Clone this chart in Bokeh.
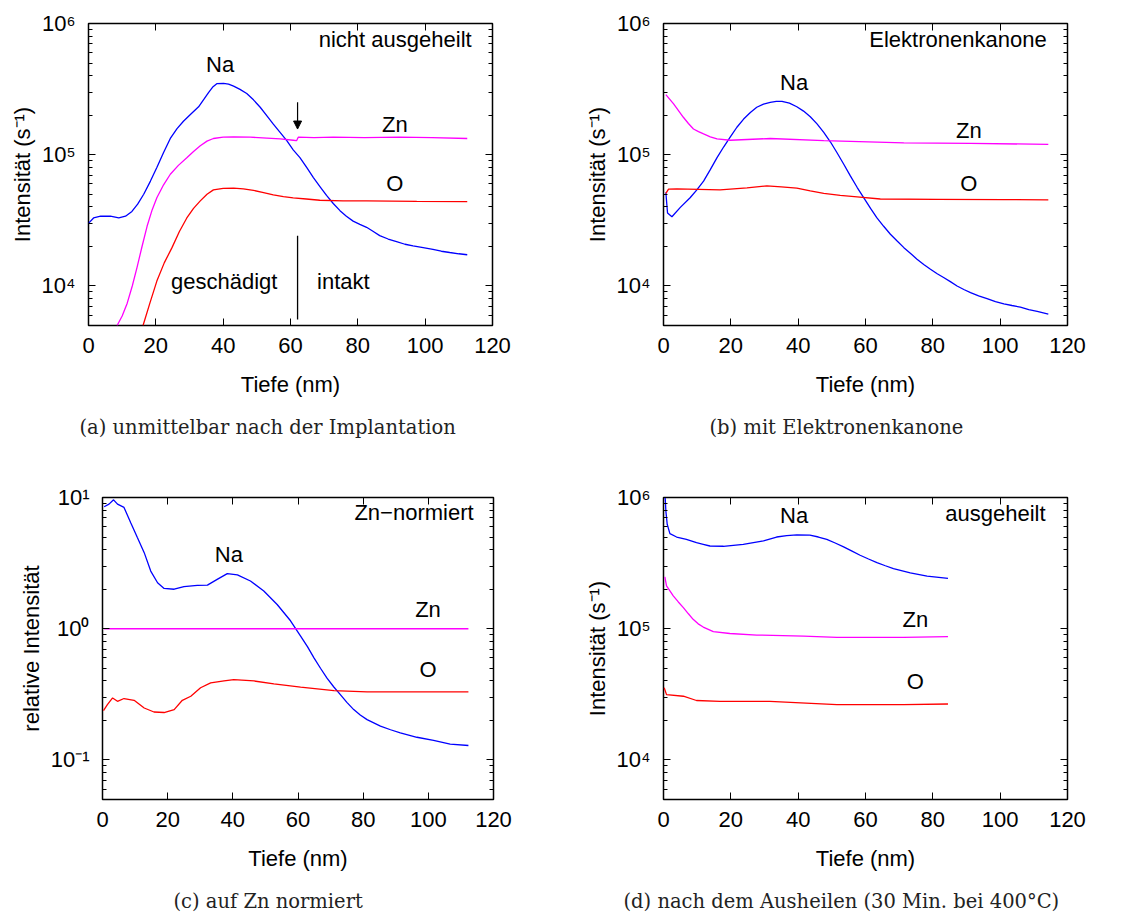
from bokeh.plotting import figure
from bokeh.models import (Range1d, LogAxis, LinearAxis, FixedTicker, Title, Arrow, NormalHead,
                          CustomLabelingPolicy)
from bokeh.layouts import column, row
from bokeh.core.properties import value
from bokeh.embed import file_html
from bokeh.resources import INLINE

# ---------------- data (depth in nm, intensity) ----------------
# (a) unmittelbar nach der Implantation
a_na_x = [0, 1.5, 3.6, 6.5, 9, 11, 12.9, 14.6, 16.4, 18.4, 20.3, 22.3, 24.3, 26.3, 28.2, 30.5, 32.7, 34.3,
          35.7, 37, 38.1, 40.1, 41.6, 43.1, 45, 47, 49, 51, 53, 54.9, 56.9, 58.9, 60.8, 62.8, 64.8, 66.8,
          68.8, 70.7, 72.7, 74.7, 76.6, 78.6, 80.6, 82.6, 84.6, 86.5, 89, 91.5, 94, 96.4, 99.4, 102.3,
          104.8, 107.3, 110, 112.5]
a_na_y = [3.0e4, 3.3e4, 3.4e4, 3.4e4, 3.3e4, 3.4e4, 3.7e4, 4.2e4, 5.0e4, 6.3e4, 8.0e4, 1.04e5, 1.33e5,
          1.58e5, 1.8e5, 2.05e5, 2.32e5, 2.65e5, 2.99e5, 3.3e5, 3.48e5, 3.5e5, 3.45e5, 3.33e5, 3.15e5,
          2.93e5, 2.62e5, 2.3e5, 1.98e5, 1.71e5, 1.48e5, 1.28e5, 1.09e5, 9.5e4, 8.0e4, 6.7e4, 5.7e4, 4.9e4,
          4.25e4, 3.75e4, 3.4e4, 3.12e4, 2.95e4, 2.8e4, 2.6e4, 2.42e4, 2.28e4, 2.18e4, 2.08e4, 2.02e4,
          1.96e4, 1.9e4, 1.84e4, 1.8e4, 1.76e4, 1.73e4]
a_zn_x = [8.5, 10, 11.5, 13, 14.4, 15.9, 17.4, 18.9, 20.3, 22.3, 24.3, 26.7, 29.2, 31.2, 33.2, 35.2, 37.1,
          40, 43.1, 48, 53, 57, 60.8, 61.8, 62.3, 67, 72.7, 82, 92.4, 102, 112.5]
a_zn_y = [5.0e3, 5.9e3, 7.4e3, 1.0e4, 1.38e4, 2.0e4, 2.85e4, 3.8e4, 4.7e4, 5.9e4, 7.1e4, 8.3e4, 9.5e4,
          1.06e5, 1.17e5, 1.27e5, 1.33e5, 1.36e5, 1.37e5, 1.36e5, 1.34e5, 1.32e5, 1.29e5, 1.28e5, 1.36e5,
          1.35e5, 1.36e5, 1.35e5, 1.36e5, 1.35e5, 1.33e5]
a_o_x = [16.2, 18.3, 20.3, 22.5, 24.8, 27, 29.2, 31.2, 33.2, 35.2, 37.1, 40, 43.1, 46, 49, 52, 54.9, 57.9,
         60.8, 64.7, 68.7, 75.6, 82.6, 97.5, 112.5]
a_o_y = [5.0e3, 7.5e3, 1.09e4, 1.5e4, 1.96e4, 2.6e4, 3.3e4, 3.9e4, 4.45e4, 5.0e4, 5.4e4, 5.55e4, 5.57e4,
         5.5e4, 5.35e4, 5.15e4, 4.95e4, 4.8e4, 4.7e4, 4.6e4, 4.5e4, 4.45e4, 4.45e4, 4.42e4, 4.4e4]

# (b) mit Elektronenkanone
b_na_x = [0.7, 1.2, 2.5, 5, 7.9, 9.9, 11.9, 13.9, 15.9, 17.9, 19.8, 21.8, 23.8, 25.8, 27.7, 29.7, 31.7,
          33.5, 35.2, 37.4, 39.6, 41.6, 43.6, 45.6, 47.6, 49.6, 51.5, 53.5, 55.5, 57.5, 59.5, 61.5, 63.4,
          65.4, 67.4, 69.4, 71.4, 73.4, 75.3, 77.3, 79.3, 81.3, 83.2, 85.2, 87.2, 89.2, 91.2, 93.6, 96.1,
          98.6, 101.1, 103.5, 106, 108.5, 111, 114.3]
b_na_y = [5.15e4, 3.6e4, 3.37e4, 3.97e4, 4.7e4, 5.4e4, 6.3e4, 7.7e4, 9.5e4, 1.15e5, 1.36e5, 1.62e5,
          1.87e5, 2.1e5, 2.3e5, 2.43e5, 2.51e5, 2.55e5, 2.55e5, 2.47e5, 2.32e5, 2.15e5, 1.95e5, 1.72e5,
          1.48e5, 1.25e5, 1.04e5, 8.5e4, 6.9e4, 5.65e4, 4.7e4, 3.9e4, 3.3e4, 2.85e4, 2.48e4, 2.2e4,
          1.96e4, 1.77e4, 1.6e4, 1.46e4, 1.34e4, 1.24e4, 1.16e4, 1.08e4, 1.0e4, 9.4e3, 8.9e3, 8.4e3,
          8.0e3, 7.6e3, 7.3e3, 7.1e3, 6.9e3, 6.6e3, 6.4e3, 6.1e3]
b_zn_x = [0.7, 3, 5.9, 7.4, 8.9, 10.4, 11.9, 13.9, 15.9, 19.8, 31.7, 47.6, 71.4, 91.2, 114.3]
b_zn_y = [2.87e5, 2.44e5, 1.93e5, 1.73e5, 1.57e5, 1.5e5, 1.44e5, 1.37e5, 1.32e5, 1.29e5, 1.33e5, 1.28e5,
          1.23e5, 1.22e5, 1.2e5]
b_o_x = [0.7, 1.5, 4, 16.8, 24.8, 30.7, 35, 39.6, 43.6, 47.6, 52.5, 57.5, 64.4, 81.3, 101.1, 114.3]
b_o_y = [5.07e4, 5.47e4, 5.5e4, 5.4e4, 5.6e4, 5.8e4, 5.7e4, 5.57e4, 5.3e4, 5.07e4, 4.9e4, 4.78e4, 4.6e4,
         4.57e4, 4.55e4, 4.53e4]

# (c) auf Zn normiert
c_na_x = [0.5, 2, 3.4, 4.6, 6.6, 8.7, 10.7, 12.8, 14.8, 16.9, 18.9, 22, 25, 29.1, 32.2, 35.2, 38.3, 41.4,
          45.4, 49.5, 53.6, 57.7, 60.8, 62.9, 64.9, 66.9, 68.9, 71, 73, 75, 77.1, 79.1, 81.2, 85.3, 88.4,
          91.4, 96.5, 101.6, 106.7, 112.3]
c_na_y = [8.5, 8.9, 9.6, 8.9, 8.4, 6.4, 4.95, 3.8, 2.75, 2.24, 2.03, 2.0, 2.09, 2.14, 2.15, 2.38, 2.63,
          2.57, 2.31, 1.94, 1.53, 1.15, 0.88, 0.73, 0.6, 0.5, 0.42, 0.36, 0.315, 0.275, 0.242, 0.22, 0.203,
          0.181, 0.17, 0.161, 0.149, 0.141, 0.132, 0.129]
c_zn_x = [0.5, 112.3]
c_zn_y = [1.0, 1.0]
c_o_x = [0.3, 1.5, 3.1, 4.6, 6.6, 9.7, 12.8, 15.8, 18.9, 22, 24.5, 27.1, 30.1, 33.2, 37.3, 40.3, 46.5,
         52.6, 60.8, 71, 81.2, 112.3]
c_o_y = [0.238, 0.264, 0.297, 0.28, 0.294, 0.285, 0.249, 0.232, 0.23, 0.242, 0.285, 0.306, 0.355, 0.387,
         0.4, 0.41, 0.4, 0.38, 0.359, 0.338, 0.33, 0.33]

# (d) nach dem Ausheilen
d_na_x = [0.5, 0.7, 1.1, 1.9, 3.9, 6.8, 9.8, 11.8, 13.8, 17.8, 23.7, 29.7, 33.6, 36.6, 39.6, 43.5, 46,
          48.5, 51, 53.5, 56, 58.4, 60.9, 63.4, 65.9, 68.3, 73.3, 78.3, 84.5]
d_na_y = [1.0e6, 7.9e5, 6.25e5, 5.3e5, 5.0e5, 4.8e5, 4.53e5, 4.4e5, 4.27e5, 4.25e5, 4.4e5, 4.67e5, 5.0e5,
          5.12e5, 5.19e5, 5.16e5, 5.0e5, 4.8e5, 4.5e5, 4.2e5, 3.9e5, 3.63e5, 3.4e5, 3.19e5, 3.02e5, 2.87e5,
          2.67e5, 2.52e5, 2.42e5]
d_zn_x = [0.4, 0.9, 2.9, 4.4, 5.9, 7.4, 8.8, 10.3, 11.8, 14.8, 19.7, 27.7, 41.6, 51.5, 71.3, 84.5]
d_zn_y = [2.48e5, 2.12e5, 1.78e5, 1.6e5, 1.45e5, 1.3e5, 1.18e5, 1.09e5, 1.03e5, 9.5e4, 9.2e4, 8.95e4,
          8.8e4, 8.6e4, 8.6e4, 8.7e4]
d_o_x = [0.2, 0.9, 5.9, 9.8, 16.8, 31.6, 51.5, 71.3, 84.5]
d_o_y = [3.55e4, 3.15e4, 3.06e4, 2.84e4, 2.8e4, 2.8e4, 2.64e4, 2.64e4, 2.67e4]

# ticks / labels
x_ticks = [0, 20, 40, 60, 80, 100, 120]
int_ticks = [1e4, 1e5, 1e6]
int_tick_labels = ["10\u2074", "10\u2075", "10\u2076"]
int_minor = [k * 10 ** e for e in (3, 4, 5) for k in range(2, 10)]
rel_ticks = [0.1, 1.0, 10.0]
rel_tick_labels = ["10\u207b\u00b9", "10\u2070", "10\u00b9"]
rel_minor = [k * 10.0 ** e for e in (-2, -1, 0) for k in range(2, 10)]

# annotations (text, x, y)
a_labels = (["Na", "Zn", "O", "geschädigt", "intakt"], [39.1, 91, 91, 40.3, 75.7],
            [4.9e5, 1.7e5, 6.0e4, 1.09e4, 1.09e4])
a_corner = (["nicht ausgeheilt"], [113.8], [7.6e5])
b_labels = (["Na", "Zn", "O"], [38.8, 90.7, 90.7], [3.56e5, 1.52e5, 6.0e4])
b_corner = (["Elektronenkanone"], [113.8], [7.6e5])
c_labels = (["Na", "Zn", "O"], [38.8, 99.9, 99.9], [3.65, 1.4, 0.49])
c_corner = (["Zn\u2212normiert"], [113.9], [7.7])
d_labels = (["Na", "Zn", "O"], [38.8, 74.8, 74.8], [7.25e5, 1.18e5, 3.94e4])
d_corner = (["ausgeheilt"], [113.5], [7.5e5])

boundary_x = [62.1, 62.1]
boundary_y = [5.56e3, 2.41e4]
arrow_x = 62.1
arrow_y = (2.51e5, 1.57e5)

captions = ["(a) unmittelbar nach der Implantation", "(b) mit Elektronenkanone",
            "(c) auf Zn normiert", "(d) nach dem Ausheilen (30 Min. bei 400°C)"]

FONT = "Liberation Sans"
SERIF = "DejaVu Serif"
FS = "22px"
BLUE, MAGENTA, RED = "#0000ff", "#ff00ff", "#ff0000"

HIDE = "for (const i of Array.from(indices)) { indices.unset(i) }\nreturn indices"


def mirror_axis(cls, ticks, minor, minor_in):
    return cls(ticker=FixedTicker(ticks=ticks, minor_ticks=minor), axis_line_color=None,
               major_tick_in=7, major_tick_out=0, minor_tick_in=minor_in, minor_tick_out=0,
               major_label_standoff=0, major_label_policy=CustomLabelingPolicy(code=HIDE))


def panel(yr, yticks, ylabels, yminor, ylabel, borders, fw, caption, cap_offset,
          series, labels, corner):
    bl, br, bt, bb = borders
    p = figure(frame_width=fw, frame_height=302, x_range=Range1d(0, 120), y_range=Range1d(*yr),
               y_axis_type="log", output_backend="svg", toolbar_location=None,
               min_border_left=bl, min_border_right=br, min_border_top=bt, min_border_bottom=bb)
    p.grid.visible = False
    p.outline_line_color = "black"
    p.outline_line_width = 1.5
    p.background_fill_color = "white"
    p.border_fill_color = "white"

    p.xaxis.ticker = FixedTicker(ticks=x_ticks, minor_ticks=[])
    p.yaxis.ticker = FixedTicker(ticks=yticks, minor_ticks=yminor)
    p.yaxis.major_label_overrides = dict(zip(yticks, ylabels))
    for ax in (p.xaxis[0], p.yaxis[0]):
        ax.axis_line_color = None
        ax.major_tick_in = 7
        ax.major_tick_out = 0
        ax.minor_tick_in = 4
        ax.minor_tick_out = 0
        ax.major_label_text_font = FONT
        ax.major_label_text_font_size = FS
        ax.major_label_text_color = "black"
        ax.axis_label_text_font = FONT
        ax.axis_label_text_font_size = FS
        ax.axis_label_text_font_style = "normal"
        ax.axis_label_text_color = "black"
    p.xaxis.axis_label = "Tiefe (nm)"
    p.xaxis.major_label_standoff = 12
    p.xaxis.axis_label_standoff = 16
    p.yaxis.axis_label = ylabel
    p.yaxis.major_label_standoff = 13
    p.yaxis.axis_label_standoff = 4

    p.add_layout(mirror_axis(LinearAxis, x_ticks, [], 0), "above")
    p.add_layout(mirror_axis(LogAxis, yticks, yminor, 4), "right")

    for (xs, ys), col in zip(series, (BLUE, MAGENTA, RED)):
        p.line(xs, ys, line_color=col, line_width=1.3)

    t, xs, ys = labels
    p.text(x=xs, y=ys, text=t, text_font=value(FONT), text_font_size=value(FS),
           text_align="center", text_baseline="middle", text_color="black")
    t, xs, ys = corner
    p.text(x=xs, y=ys, text=t, text_font=value(FONT), text_font_size=value(FS),
           text_align="right", text_baseline="middle", text_color="black")

    p.add_layout(Title(text=caption, align="left", offset=cap_offset, text_font=SERIF,
                       text_font_size="19.5px", text_font_style="normal", text_color="#222222",
                       standoff=28), "below")
    return p


pa = panel((5e3, 1e6), int_ticks, int_tick_labels, int_minor, "Intensität (s\u207b\u00b9)",
           (88, 78, 23, 125), 404, captions[0], -9,
           [(a_na_x, a_na_y), (a_zn_x, a_zn_y), (a_o_x, a_o_y)], a_labels, a_corner)
pa.line(boundary_x, boundary_y, line_color="black", line_width=1.3)
pa.add_layout(Arrow(end=NormalHead(size=8, fill_color="black", line_color="black"),
                    x_start=arrow_x, y_start=arrow_y[0], x_end=arrow_x, y_end=arrow_y[1],
                    line_color="black", line_width=1.2))

pb = panel((5e3, 1e6), int_ticks, int_tick_labels, int_minor, "Intensität (s\u207b\u00b9)",
           (93, 76, 23, 125), 404, captions[1], 46,
           [(b_na_x, b_na_y), (b_zn_x, b_zn_y), (b_o_x, b_o_y)], b_labels, b_corner)

pc = panel((0.05, 10), rel_ticks, rel_tick_labels, rel_minor, "relative Intensität",
           (102, 77, 45, 116), 391, captions[2], 71,
           [(c_na_x, c_na_y), (c_zn_x, c_zn_y), (c_o_x, c_o_y)], c_labels, c_corner)

pd = panel((5e3, 1e6), int_ticks, int_tick_labels, int_minor, "Intensität (s\u207b\u00b9)",
           (93, 76, 45, 116), 404, captions[3], -40,
           [(d_na_x, d_na_y), (d_zn_x, d_zn_y), (d_o_x, d_o_y)], d_labels, d_corner)

layout = column(row(pa, pb), row(pc, pd))
open("out.html", "w").write(file_html(layout, INLINE))
